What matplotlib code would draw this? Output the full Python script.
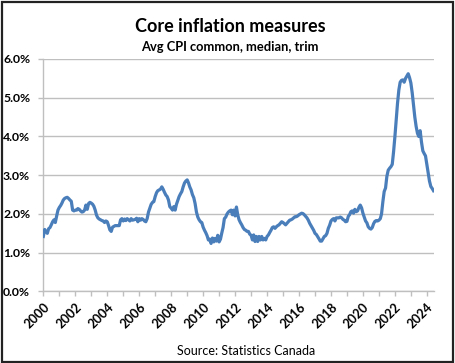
import matplotlib
matplotlib.use("Agg")
import matplotlib.pyplot as plt
import matplotlib.dates as mdates
import matplotlib.ticker as mticker
from matplotlib.patches import Rectangle
import pandas as pd

plt.rcParams["font.family"] = ["Lato", "DejaVu Sans"]

# average of CPI-common, CPI-median, CPI-trim, y/y %, monthly from Jan 2000
core_avg = [
    1.42, 1.60, 1.55, 1.50, 1.62, 1.65, 1.72, 1.80, 1.85, 1.78, 1.95, 2.10,  # 2000
    2.17, 2.22, 2.28, 2.36, 2.40, 2.42, 2.43, 2.40, 2.36, 2.33, 2.10, 2.08,  # 2001
    2.10, 2.10, 2.14, 2.12, 2.08, 2.05, 2.06, 2.10, 2.23, 2.12, 2.27, 2.30,  # 2002
    2.28, 2.25, 2.20, 2.10, 1.97, 1.90, 1.87, 1.85, 1.83, 1.82, 1.78, 1.82,  # 2003
    1.80, 1.70, 1.59, 1.55, 1.66, 1.68, 1.70, 1.70, 1.70, 1.70, 1.85, 1.88,  # 2004
    1.82, 1.87, 1.83, 1.88, 1.85, 1.82, 1.88, 1.84, 1.85, 1.86, 1.89, 1.80,  # 2005
    1.88, 1.84, 1.88, 1.86, 1.82, 1.80, 1.88, 2.05, 2.15, 2.25, 2.30, 2.32,  # 2006
    2.45, 2.55, 2.60, 2.62, 2.64, 2.70, 2.64, 2.56, 2.49, 2.45, 2.36, 2.19,  # 2007
    2.15, 2.10, 2.19, 2.10, 2.25, 2.35, 2.45, 2.52, 2.58, 2.70, 2.80, 2.85,  # 2008
    2.88, 2.80, 2.70, 2.62, 2.50, 2.42, 2.27, 2.05, 1.92, 1.85, 1.80, 1.78,  # 2009
    1.66, 1.58, 1.52, 1.44, 1.33, 1.35, 1.24, 1.38, 1.28, 1.37, 1.30, 1.45,  # 2010
    1.28, 1.35, 1.50, 1.65, 1.88, 1.92, 2.00, 2.05, 2.08, 2.10, 1.98, 2.10,  # 2011
    1.95, 2.18, 1.98, 1.85, 1.78, 1.72, 1.65, 1.60, 1.58, 1.55, 1.55, 1.48,  # 2012
    1.45, 1.33, 1.46, 1.29, 1.42, 1.29, 1.42, 1.33, 1.42, 1.33, 1.37, 1.33,  # 2013
    1.42, 1.46, 1.52, 1.58, 1.65, 1.67, 1.63, 1.67, 1.70, 1.72, 1.76, 1.80,  # 2014
    1.78, 1.75, 1.72, 1.76, 1.80, 1.84, 1.85, 1.87, 1.90, 1.93, 1.93, 1.95,  # 2015
    1.98, 2.00, 2.02, 2.01, 1.98, 1.94, 1.90, 1.84, 1.76, 1.70, 1.64, 1.58,  # 2016
    1.50, 1.47, 1.42, 1.36, 1.30, 1.30, 1.36, 1.42, 1.44, 1.50, 1.63, 1.71,  # 2017
    1.82, 1.86, 1.88, 1.82, 1.90, 1.90, 1.90, 1.92, 1.90, 1.86, 1.84, 1.80,  # 2018
    1.81, 1.94, 1.98, 2.06, 2.08, 2.02, 2.12, 2.06, 2.08, 2.17, 2.23, 2.16,  # 2019
    2.02, 1.92, 1.82, 1.77, 1.67, 1.63, 1.61, 1.65, 1.75, 1.81, 1.83, 1.82,  # 2020
    1.84, 1.88, 2.00, 2.32, 2.58, 2.67, 2.97, 3.13, 3.18, 3.22, 3.28, 3.60,  # 2021
    4.00, 4.45, 4.85, 5.20, 5.40, 5.45, 5.46, 5.40, 5.50, 5.56, 5.62, 5.52,  # 2022
    5.38, 5.12, 4.82, 4.50, 4.26, 4.08, 4.00, 4.15, 3.85, 3.63, 3.56, 3.50,  # 2023
    3.28, 3.06, 2.85, 2.71, 2.66, 2.60,                                      # 2024
]
months = pd.date_range("2000-01-01", periods=len(core_avg), freq="MS")

TITLE = "Core inflation measures"
SUBTITLE = "Avg CPI common, median, trim"
SOURCE = "Source: Statistics Canada"
BLUE, GRID, INK = "#4a7ebb", "#bfbfbf", "#000000"

fig = plt.figure(figsize=(4.56, 3.63), dpi=100)
ax = fig.add_axes([0.095, 0.197, 0.857, 0.6405])

ax.plot(months, core_avg, color=BLUE, lw=2.3, solid_joinstyle="round", zorder=3)

ax.set_ylim(0, 6)
ax.set_xlim(pd.Timestamp("2000-01-01"), pd.Timestamp("2024-06-15"))
ax.yaxis.set_major_locator(mticker.MultipleLocator(1))
ax.yaxis.set_major_formatter(mticker.FuncFormatter(lambda v, _: f"{v:.1f}%"))
ax.grid(axis="y", color=GRID, lw=1.0)
ax.set_axisbelow(True)

ax.xaxis.set_major_locator(mdates.YearLocator(2))
ax.xaxis.set_minor_locator(mdates.YearLocator(1))
ax.xaxis.set_major_formatter(mdates.DateFormatter("%Y"))

for s in ("top", "right"):
    ax.spines[s].set_visible(False)
for s in ("left", "bottom"):
    ax.spines[s].set_color(GRID)
    ax.spines[s].set_linewidth(1.0)

ax.tick_params(axis="y", length=3.5, color=GRID, width=1.0, pad=6, labelsize=8.8)
ax.tick_params(axis="x", which="both", length=3.5, color=GRID, width=1.0)
ax.tick_params(axis="x", which="major", labelsize=9.2, pad=3)
for lab in ax.get_yticklabels():
    lab.set_fontweight("bold")
for lab in ax.get_xticklabels():
    lab.set_fontweight("bold")
    lab.set_rotation(45)
    lab.set_ha("right")
    lab.set_rotation_mode("anchor")

fig.text(0.505, 0.927, TITLE, ha="center", va="center", fontsize=13,
         fontweight="bold", color=INK)
fig.text(0.505, 0.871, SUBTITLE, ha="center", va="center", fontsize=9.3,
         fontweight="bold", color=INK)
fig.text(0.54, 0.034, SOURCE, ha="center", va="center", fontsize=9, color=INK)

fig.add_artist(Rectangle((0.004, 0.004), 0.990, 0.990, transform=fig.transFigure,
                         fill=False, ec="#222222", lw=1.6))

fig.savefig("out.png", dpi=100)
